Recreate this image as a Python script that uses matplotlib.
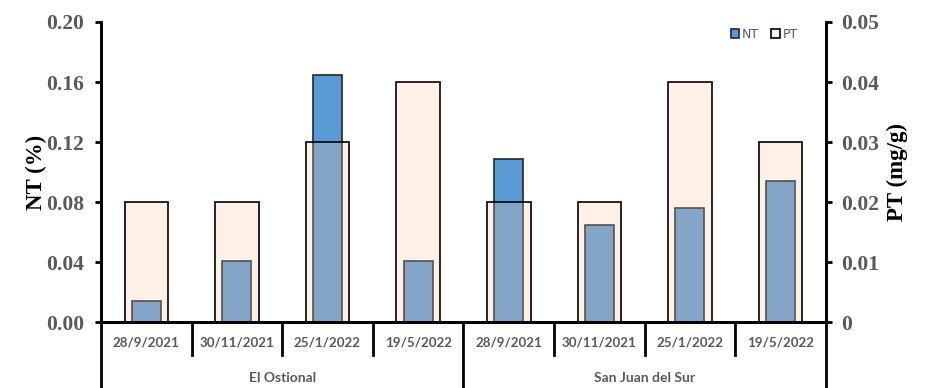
import matplotlib
matplotlib.use("Agg")
import matplotlib.pyplot as plt
import numpy as np

dates = ["28/9/2021", "30/11/2021", "25/1/2022", "19/5/2022",
         "28/9/2021", "30/11/2021", "25/1/2022", "19/5/2022"]
sites = ["El Ostional", "San Juan del Sur"]
nt = [0.014, 0.041, 0.165, 0.041, 0.109, 0.065, 0.076, 0.094]
pt = [0.020, 0.020, 0.030, 0.040, 0.020, 0.020, 0.040, 0.030]
nt_ticks = [0.00, 0.04, 0.08, 0.12, 0.16, 0.20]
pt_ticks = [0, 0.01, 0.02, 0.03, 0.04, 0.05]
pt_ticklabels = ["0", "0.01", "0.02", "0.03", "0.04", "0.05"]

fig = plt.figure(figsize=(9.28, 3.88), dpi=100)
ax = fig.add_axes([0.1088, 0.170, 0.890 - 0.1088, 0.9433 - 0.170])
ax2 = ax.twinx()

x = np.arange(len(dates))
grey = "#595959"

b1 = ax.bar(x, nt, width=0.32, color="#5B9BD5", edgecolor="#262626", linewidth=1.2, label="NT", zorder=2)
b2 = ax2.bar(x, pt, width=0.48, facecolor=(247/255, 197/255, 166/255, 0.26),
             edgecolor="black", linewidth=1.2, label="PT", zorder=2)

ax.set_xlim(-0.5, len(dates) - 0.5)
ax.set_ylim(0, 0.20)
ax2.set_ylim(0, 0.05)
ax.set_yticks(nt_ticks)
ax.set_yticklabels([f"{v:.2f}" for v in nt_ticks])
ax2.set_yticks(pt_ticks)
ax2.set_yticklabels(pt_ticklabels)

serif = "Liberation Serif"
for a, pad in ((ax, 8), (ax2, 7)):
    for lbl in a.get_yticklabels():
        lbl.set_fontfamily(serif)
        lbl.set_fontweight("bold")
        lbl.set_fontsize(15.5)
        lbl.set_color(grey)
    a.tick_params(axis="y", length=4, width=2, direction="out", pad=pad)
    for s in a.spines.values():
        s.set_linewidth(2)
    a.spines["top"].set_visible(False)

ax.set_xticks([])
ax2.set_xticks([])
ax.set_ylabel("NT (%)", fontfamily=serif, fontweight="bold", fontsize=16.5)
ax2.set_ylabel("PT (mg/g)", fontfamily=serif, fontweight="bold", fontsize=16.5)
ax.yaxis.set_label_coords((47 - 101) / 725.0, 0.5)
ax2.yaxis.set_label_coords((887 - 101) / 725.0, 0.5)

tr = ax.get_xaxis_transform()
axh = 300.0
for xs in [0.5, 1.5, 2.5, 4.5, 5.5, 6.5]:
    ax.plot([xs, xs], [0, -33 / axh], transform=tr, color="black", lw=2, clip_on=False)
for xs in [-0.5, 3.5, 7.5]:
    ax.plot([xs, xs], [0, -70 / axh], transform=tr, color="black", lw=2, clip_on=False)

for i, d in enumerate(dates):
    ax.text(i, -20 / axh, d, transform=tr, ha="center", va="center",
            fontsize=9.6, color=grey, fontfamily="Lato", fontweight="bold")
for g, s in enumerate(sites):
    ax.text(g * 4 + 1.5, -56 / axh, s, transform=tr, ha="center", va="center",
            fontsize=10, color=grey, fontfamily="Lato", fontweight="bold")

leg = ax2.legend([b1, b2], ["NT", "PT"], loc="center", bbox_to_anchor=(0.915, 0.96),
                 ncol=2, frameon=False, handlelength=0.7, handleheight=0.7,
                 handletextpad=0.2, columnspacing=1.0, fontsize=9)
for t in leg.get_texts():
    t.set_color(grey)

fig.savefig("out.png", dpi=100)
